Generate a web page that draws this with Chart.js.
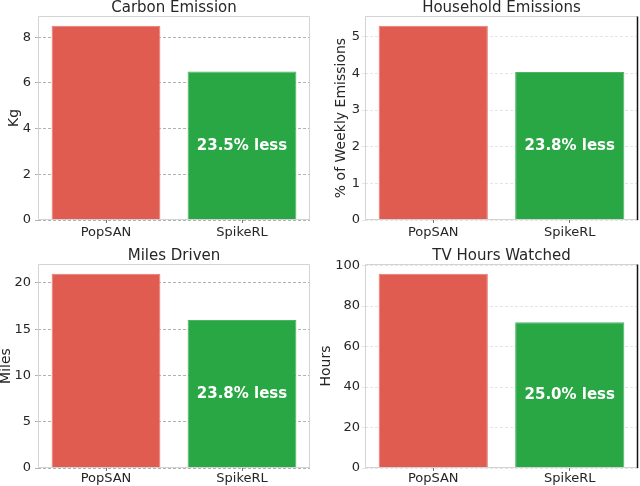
<!DOCTYPE html>
<html><head><meta charset="utf-8">
<script src="https://cdn.jsdelivr.net/npm/chart.js@4.4.0/dist/chart.umd.min.js"></script>
<style>
html,body{margin:0;padding:0;background:#fff;overflow:hidden;width:640px;height:486px}
.p{position:absolute;width:320px}
canvas{display:block}
</style></head><body>
<div class="p" style="left:0;top:0"><canvas id="c1" width="320" height="243"></canvas></div>
<div class="p" style="left:320px;top:0"><canvas id="c2" width="320" height="243"></canvas></div>
<div class="p" style="left:0;top:248px"><canvas id="c3" width="320" height="238"></canvas></div>
<div class="p" style="left:320px;top:248px"><canvas id="c4" width="320" height="238"></canvas></div>
<script>
const categories = ['PopSAN', 'SpikeRL'];
const carbonValues = [8.5, 6.5];
const householdValues = [5.3, 4.04];
const milesValues = [21, 16];
const tvValues = [96, 72];
const carbonTicks = [0, 2, 4, 6, 8];
const householdTicks = [0, 1, 2, 3, 4, 5];
const milesTicks = [0, 5, 10, 15, 20];
const tvTicks = [0, 20, 40, 60, 80, 100];
const notes = ['23.5% less', '23.8% less', '23.8% less', '25.0% less'];
const titles = ['Carbon Emission', 'Household Emissions', 'Miles Driven', 'TV Hours Watched'];
const yTitles = ['Kg', '% of Weekly Emissions', 'Miles', 'Hours'];

Chart.defaults.font.family = 'DejaVu Sans';
Chart.defaults.color = '#262626';

const barColors = ['#e05c50', '#29a745'];
const barEdges = ['#e57a70', '#4cb563'];

const framePlugin = {
  id: 'frame',
  afterDatasetsDraw(chart, args, o) {
    const {ctx, chartArea: a} = chart;
    ctx.save();
    ctx.lineWidth = 1;
    ctx.strokeStyle = '#d3d3d3';
    const l = Math.round(a.left) + 0.5, r = Math.round(a.right) - 0.5;
    const t = Math.round(a.top) + 0.5, b = Math.round(a.bottom) - 0.5;
    ctx.beginPath();
    ctx.moveTo(l, t); ctx.lineTo(r, t);
    ctx.moveTo(l, t); ctx.lineTo(l, b);
    ctx.moveTo(l, b); ctx.lineTo(r, b);
    ctx.stroke();
    ctx.strokeStyle = o.rightColor;
    ctx.lineWidth = o.rightWidth;
    ctx.beginPath();
    ctx.moveTo(r, t); ctx.lineTo(r, b + 0.5);
    ctx.stroke();
    const meta = chart.getDatasetMeta(0);
    const bar = meta.data[1];
    const vals = chart.data.datasets[0].data;
    const y = chart.scales.y.getPixelForValue(vals[1] / 2);
    ctx.fillStyle = '#ffffff';
    ctx.font = 'bold 15px "DejaVu Sans"';
    ctx.textAlign = 'center';
    ctx.textBaseline = 'middle';
    ctx.fillText(o.note, bar.x, y);
    ctx.restore();
  }
};

function makeChart(id, idx, values, ticks, o) {
  const yMax = Math.max(...values) * 1.05;
  return new Chart(document.getElementById(id), {
    type: 'bar',
    data: {
      labels: categories,
      datasets: [{
        data: values,
        backgroundColor: barColors,
        borderColor: barEdges,
        borderWidth: 1,
        barPercentage: 0.8,
        categoryPercentage: 1.0
      }]
    },
    plugins: [framePlugin],
    options: {
      responsive: false,
      animation: false,
      devicePixelRatio: 1,
      layout: {padding: {left: 0, right: o.rightPad, top: 0, bottom: 0}},
      plugins: {
        legend: {display: false},
        tooltip: {enabled: false},
        title: {
          display: true,
          text: titles[idx],
          fullSize: false,
          font: {size: 15, weight: 'normal', lineHeight: 1},
          color: '#262626',
          padding: {top: 1, bottom: 0}
        },
        frame: {note: notes[idx], rightColor: o.rightColor, rightWidth: o.rightWidth}
      },
      scales: {
        x: {
          type: 'category',
          offset: true,
          grid: {display: true, offset: false, drawOnChartArea: false, drawTicks: true, tickLength: 3, tickColor: '#777', tickWidth: 1},
          border: {display: false},
          ticks: {font: {size: 13}, color: '#262626', padding: o.xPad},
          afterFit: s => { s.height = o.xHeight; }
        },
        y: {
          min: 0,
          max: yMax,
          afterBuildTicks: s => { s.ticks = ticks.map(v => ({value: v})); },
          grid: {color: o.gridColor, lineWidth: 1, tickLength: 3, tickColor: o.gridColor},
          border: {display: false, dash: [3, 2]},
          ticks: {font: {size: 13}, color: '#262626', padding: o.yPad},
          title: {display: true, text: yTitles[idx], font: {size: 14, lineHeight: 1}, color: '#262626', padding: {top: o.yTitlePad, bottom: 0}},
          afterFit: s => { s.width = o.yWidth; }
        }
      }
    }
  });
}

makeChart('c1', 0, carbonValues, carbonTicks,
  {rightPad: 10, yWidth: 38, yPad: 4, yTitlePad: 7, xPad: 2, xHeight: 23, gridColor: 'rgba(0,0,0,0.3)', rightColor: '#d3d3d3', rightWidth: 1});
makeChart('c2', 1, householdValues, householdTicks,
  {rightPad: 2, yWidth: 45, yPad: 2, yTitlePad: 14, xPad: 2, xHeight: 23, gridColor: 'rgba(0,0,0,0.1)', rightColor: '#111', rightWidth: 1.5});
makeChart('c3', 2, milesValues, milesTicks,
  {rightPad: 10, yWidth: 38, yPad: 4, yTitlePad: -1, xPad: 0, xHeight: 18, gridColor: 'rgba(0,0,0,0.3)', rightColor: '#d3d3d3', rightWidth: 1});
makeChart('c4', 3, tvValues, tvTicks,
  {rightPad: 2, yWidth: 45, yPad: 2, yTitlePad: -1, xPad: 0, xHeight: 18, gridColor: 'rgba(0,0,0,0.1)', rightColor: '#111', rightWidth: 1.5});
</script>
</body></html>
